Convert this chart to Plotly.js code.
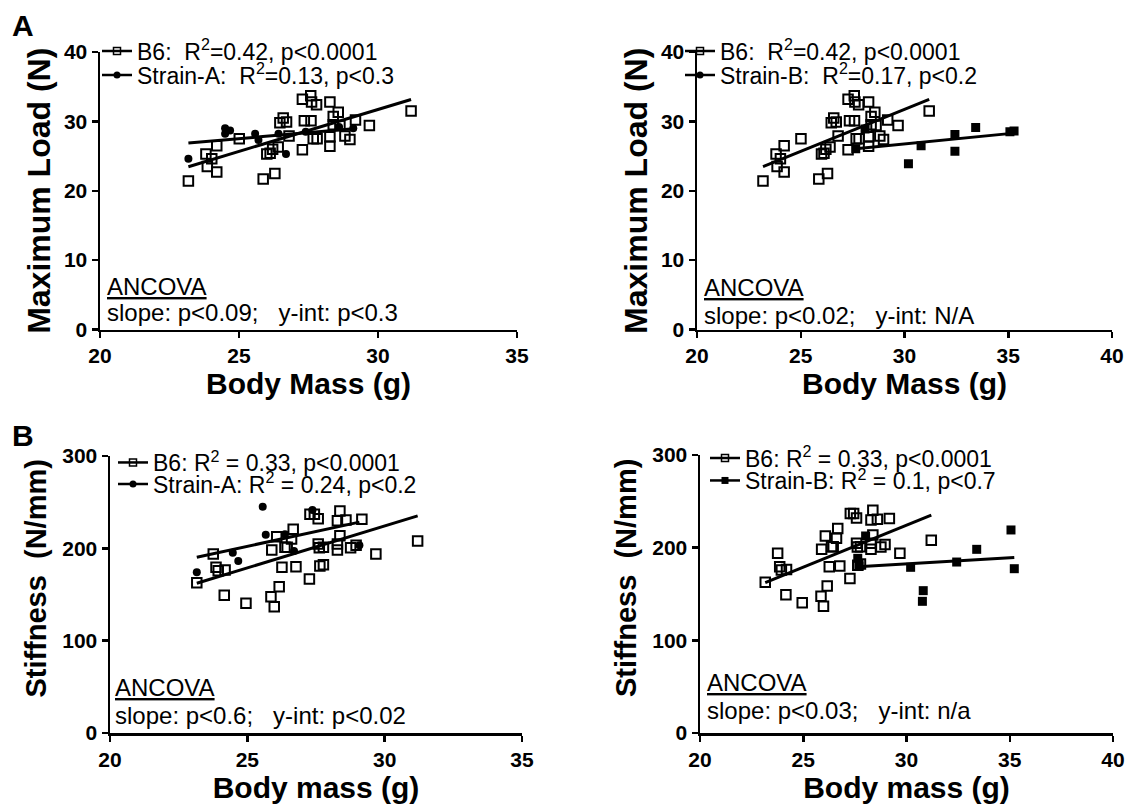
<!DOCTYPE html>
<html>
<head>
<meta charset="utf-8">
<script src="https://cdn.plot.ly/plotly-3.0.1.min.js"></script>
<style>html,body{margin:0;padding:0;background:#fff;}#chart{width:1133px;height:806px;}</style>
</head>
<body>
<div id="chart"></div>
<script>
// ---------- Data ----------
// Panel A: Maximum Load (N) vs Body Mass (g)
const b6MassA = [23.18,23.81,24.02,23.86,24.2,24.2,25.01,25.87,26.29,26.0,26.12,26.21,26.41,26.47,26.59,26.71,26.8,27.28,27.35,27.59,27.28,27.58,27.61,27.79,27.67,27.81,28.27,28.27,28.27,28.39,28.57,28.63,28.39,28.81,28.99,29.19,29.69,31.19];
const b6LoadA = [21.4,25.3,24.6,23.5,22.7,26.5,27.5,21.7,22.5,25.3,25.4,26.0,26.3,29.8,30.5,29.9,27.9,25.9,30.1,30.1,33.2,33.7,32.8,32.4,27.5,27.5,32.8,27.8,26.4,30.7,31.3,29.4,29.5,27.9,27.4,30.2,29.4,31.5];
const strainAMassA = [23.18,24.5,24.68,24.5,25.58,25.7,26.42,26.69,27.4,28.6,29.11];
const strainALoadA = [24.6,29.0,28.7,28.2,28.2,27.3,28.2,25.3,28.5,29.2,29.0];
const strainBMassA = [27.65,28.1,30.19,30.8,32.43,32.43,33.43,35.08,35.28];
const strainBLoadA = [26.05,28.9,23.9,26.5,28.1,25.7,29.1,28.5,28.6];

// Panel B: Stiffness (N/mm) vs Body mass (g)
const b6MassB = [23.16,23.76,23.86,23.94,24.19,24.16,24.95,25.86,25.98,26.16,25.89,26.07,26.26,26.37,26.45,26.61,26.67,26.77,27.26,27.28,27.44,27.58,27.58,27.62,27.64,27.77,27.77,28.28,28.28,28.28,28.37,28.37,28.59,28.76,28.96,29.17,29.68,31.2];
const b6StiffB = [162.8,193.9,179.5,175.8,176.5,149.1,140.5,147.6,136.8,158.5,198.2,212.6,179.5,201.1,201.1,210.1,220.6,180.1,166.8,236.9,236.9,232.1,204.7,200.7,180.9,182.3,201.1,198.2,204.7,229.9,240.4,213.7,230.7,200.7,203.3,231.5,193.9,207.9];
const strainAMassB = [23.16,24.47,24.67,25.56,25.67,26.37,26.7,27.37,29.08];
const strainAStiffB = [174.0,195.3,186.3,245.1,214.8,215.2,197.1,241.5,203.3];
const strainBMassB = [27.64,27.7,28.02,30.2,30.81,30.77,32.43,33.4,35.06,35.22];
const strainBStiffB = [188.5,180.2,212.6,178.8,153.6,142.1,184.5,198.2,219.1,177.3];

// Linear fits [slope, intercept]
const fitB6Load = [1.21, -4.58];
const fitStrainALoad = [0.342, 18.97];
const fitStrainBLoad = [0.295, 17.9];
const fitB6Stiff = [9.07, -47.9];
const fitStrainAStiff = [6.43, 41.4];
const fitStrainBStiff = [1.31, 143.2];

// Tick values
const loadTicks = [0, 10, 20, 30, 40];
const stiffTicks = [0, 100, 200, 300];
const massTicksLeft = [20, 25, 30, 35];
const massTicksRight = [20, 25, 30, 35, 40];

// Legend / annotation texts
const legendTexts = [
  ["B6:\u00a0\u00a0R<sup>2</sup>=0.42, p&lt;0.0001", "Strain-A:\u00a0\u00a0R<sup>2</sup>=0.13, p&lt;0.3"],
  ["B6:\u00a0\u00a0R<sup>2</sup>=0.42, p&lt;0.0001", "Strain-B:\u00a0\u00a0R<sup>2</sup>=0.17, p&lt;0.2"],
  ["B6: R<sup>2</sup> = 0.33, p&lt;0.0001", "Strain-A: R<sup>2</sup> = 0.24, p&lt;0.2"],
  ["B6: R<sup>2</sup> = 0.33, p&lt;0.0001", "Strain-B: R<sup>2</sup> = 0.1, p&lt;0.7"]
];
const ancovaTexts = [
  "slope: p&lt;0.09;\u00a0\u00a0\u00a0y-int: p&lt;0.3",
  "slope: p&lt;0.02;\u00a0\u00a0\u00a0y-int: N/A",
  "slope: p&lt;0.6;\u00a0\u00a0\u00a0y-int: p&lt;0.02",
  "slope: p&lt;0.03;\u00a0\u00a0\u00a0y-int: n/a"
];

// ---------- Helpers ----------
const W = 1133, H = 806;
const FONT = "Liberation Sans, Arial, Helvetica, sans-serif";
const px = v => v / W;
const py = v => 1 - v / H;
const minOf = a => Math.min.apply(null, a);
const maxOf = a => Math.max.apply(null, a);

function fitLine(xs, fit, xa, ya) {
  const x0 = minOf(xs), x1 = maxOf(xs);
  return {x: [x0, x1], y: [fit[1] + fit[0] * x0, fit[1] + fit[0] * x1],
    xaxis: xa, yaxis: ya, mode: 'lines', line: {color: '#000', width: 3},
    showlegend: false, hoverinfo: 'skip'};
}
function pts(xs, ys, xa, ya, marker) {
  return {x: xs, y: ys, xaxis: xa, yaxis: ya, mode: 'markers', marker: marker,
    showlegend: false};
}
function legendEntry(name, legend, marker) {
  return {x: [null], y: [null], mode: 'lines+markers', name: name, legend: legend,
    line: {color: '#000', width: 2.5}, marker: marker, showlegend: true, hoverinfo: 'skip'};
}

const openSq = {symbol: 'square-open', size: 9.5, color: '#000', line: {color: '#000', width: 2}};
const dot = {symbol: 'circle', size: 8, color: '#000'};
const fillSq = {symbol: 'square', size: 9, color: '#000'};
const openSqL = {symbol: 'square-open', size: 7, color: '#000', line: {color: '#000', width: 1.5}};
const dotL = {symbol: 'circle', size: 7, color: '#000'};
const fillSqL = {symbol: 'square', size: 7, color: '#000'};

const traces = [
  // A-left
  pts(b6MassA, b6LoadA, 'x', 'y', openSq),
  pts(strainAMassA, strainALoadA, 'x', 'y', dot),
  fitLine(b6MassA, fitB6Load, 'x', 'y'),
  fitLine(strainAMassA, fitStrainALoad, 'x', 'y'),
  legendEntry(legendTexts[0][0], 'legend', openSqL),
  legendEntry(legendTexts[0][1], 'legend5', dotL),
  // A-right
  pts(b6MassA, b6LoadA, 'x2', 'y2', openSq),
  pts(strainBMassA, strainBLoadA, 'x2', 'y2', fillSq),
  fitLine(b6MassA, fitB6Load, 'x2', 'y2'),
  fitLine(strainBMassA, fitStrainBLoad, 'x2', 'y2'),
  legendEntry(legendTexts[1][0], 'legend2', openSqL),
  legendEntry(legendTexts[1][1], 'legend6', dotL),
  // B-left
  pts(b6MassB, b6StiffB, 'x3', 'y3', openSq),
  pts(strainAMassB, strainAStiffB, 'x3', 'y3', dot),
  fitLine(b6MassB, fitB6Stiff, 'x3', 'y3'),
  fitLine(strainAMassB, fitStrainAStiff, 'x3', 'y3'),
  legendEntry(legendTexts[2][0], 'legend3', openSqL),
  legendEntry(legendTexts[2][1], 'legend7', dotL),
  // B-right
  pts(b6MassB, b6StiffB, 'x4', 'y4', openSq),
  pts(strainBMassB, strainBStiffB, 'x4', 'y4', fillSq),
  fitLine(b6MassB, fitB6Stiff, 'x4', 'y4'),
  fitLine(strainBMassB, fitStrainBStiff, 'x4', 'y4'),
  legendEntry(legendTexts[3][0], 'legend4', openSqL),
  legendEntry(legendTexts[3][1], 'legend8', fillSqL)
];

function axis(domain, range, ticks, anchor, title, tsize, standoff) {
  return {
    domain: domain, range: range, anchor: anchor,
    tickmode: 'array', tickvals: ticks, ticktext: ticks.map(v => '<b>' + v + '</b>'),
    showline: true, linecolor: '#000', linewidth: 2.5,
    ticks: 'outside', ticklen: 6, tickwidth: 2.5, tickcolor: '#000',
    showgrid: false, zeroline: false, automargin: false, fixedrange: true,
    tickfont: {family: FONT, size: 21, color: '#000', weight: 'bold'},
    title: {text: '<b>' + title + '</b>', standoff: standoff, font: {family: FONT, size: tsize, color: '#000'}}
  };
}
function legendBox(x, y) {
  return {x: px(x), y: py(y), xanchor: 'left', yanchor: 'top', bgcolor: 'rgba(0,0,0,0)',
    borderwidth: 0, font: {family: FONT, size: 23, color: '#000'}, tracegroupgap: 0,
    itemclick: false, itemdoubleclick: false, traceorder: 'normal'};
}
function note(x, y, text, size, extra) {
  return Object.assign({xref: 'paper', yref: 'paper', x: px(x), y: py(y), text: text,
    showarrow: false, xanchor: 'left', yanchor: 'middle',
    font: {family: FONT, size: size, color: '#000'}}, extra || {});
}

const stiffTitle = '\u00a0\u00a0\u00a0\u00a0Stiffness\u00a0\u00a0(N/mm)';

const layout = {
  width: W, height: H, margin: {l: 0, r: 0, t: 0, b: 0},
  paper_bgcolor: '#fff', plot_bgcolor: 'rgba(0,0,0,0)', font: {family: FONT, color: '#000'},
  xaxis: axis([px(100), px(517)], [20, 35], massTicksLeft, 'y', 'Body Mass (g)', 30, 1),
  yaxis: axis([py(329.5), py(52)], [0, 40], loadTicks, 'x', 'Maximum Load (N)', 32, 4),
  xaxis2: axis([px(697), px(1112)], [20, 40], massTicksRight, 'y2', 'Body Mass (g)', 30, 1),
  yaxis2: axis([py(329.5), py(52)], [0, 40], loadTicks, 'x2', 'Maximum Load (N)', 32, 4),
  xaxis3: axis([px(110), px(522)], [20, 35], massTicksLeft, 'y3', 'Body mass (g)', 30, 2),
  yaxis3: axis([py(733), py(456)], [0, 300], stiffTicks, 'x3', stiffTitle, 29, 7),
  xaxis4: axis([px(700), px(1113)], [20, 40], massTicksRight, 'y4', 'Body mass (g)', 30, 2),
  yaxis4: axis([py(733), py(455)], [0, 300], stiffTicks, 'x4', stiffTitle, 29, 7),
  legend: legendBox(97, 29.5),
  legend5: legendBox(97, 53.5),
  legend2: legendBox(680, 29.5),
  legend6: legendBox(680, 53.5),
  legend3: legendBox(113, 441),
  legend7: legendBox(113, 462.5),
  legend4: legendBox(705, 436.5),
  legend8: legendBox(705, 459),
  annotations: [
    note(10, 26, '<b>A</b>', 30),
    note(10, 435, '<b>B</b>', 30),
    note(105, 286, '<u>ANCOVA</u>', 24),
    note(105, 313, ancovaTexts[0], 24),
    note(702, 287, '<u>ANCOVA</u>', 24),
    note(702, 315, ancovaTexts[1], 24),
    note(113, 687, '<u>ANCOVA</u>', 24),
    note(113, 715, ancovaTexts[2], 24),
    note(705, 682, '<u>ANCOVA</u>', 24),
    note(705, 710, ancovaTexts[3], 24)
  ],
  showlegend: true
};

Plotly.newPlot('chart', traces, layout, {displayModeBar: false, staticPlot: true});
</script>
</body>
</html>
